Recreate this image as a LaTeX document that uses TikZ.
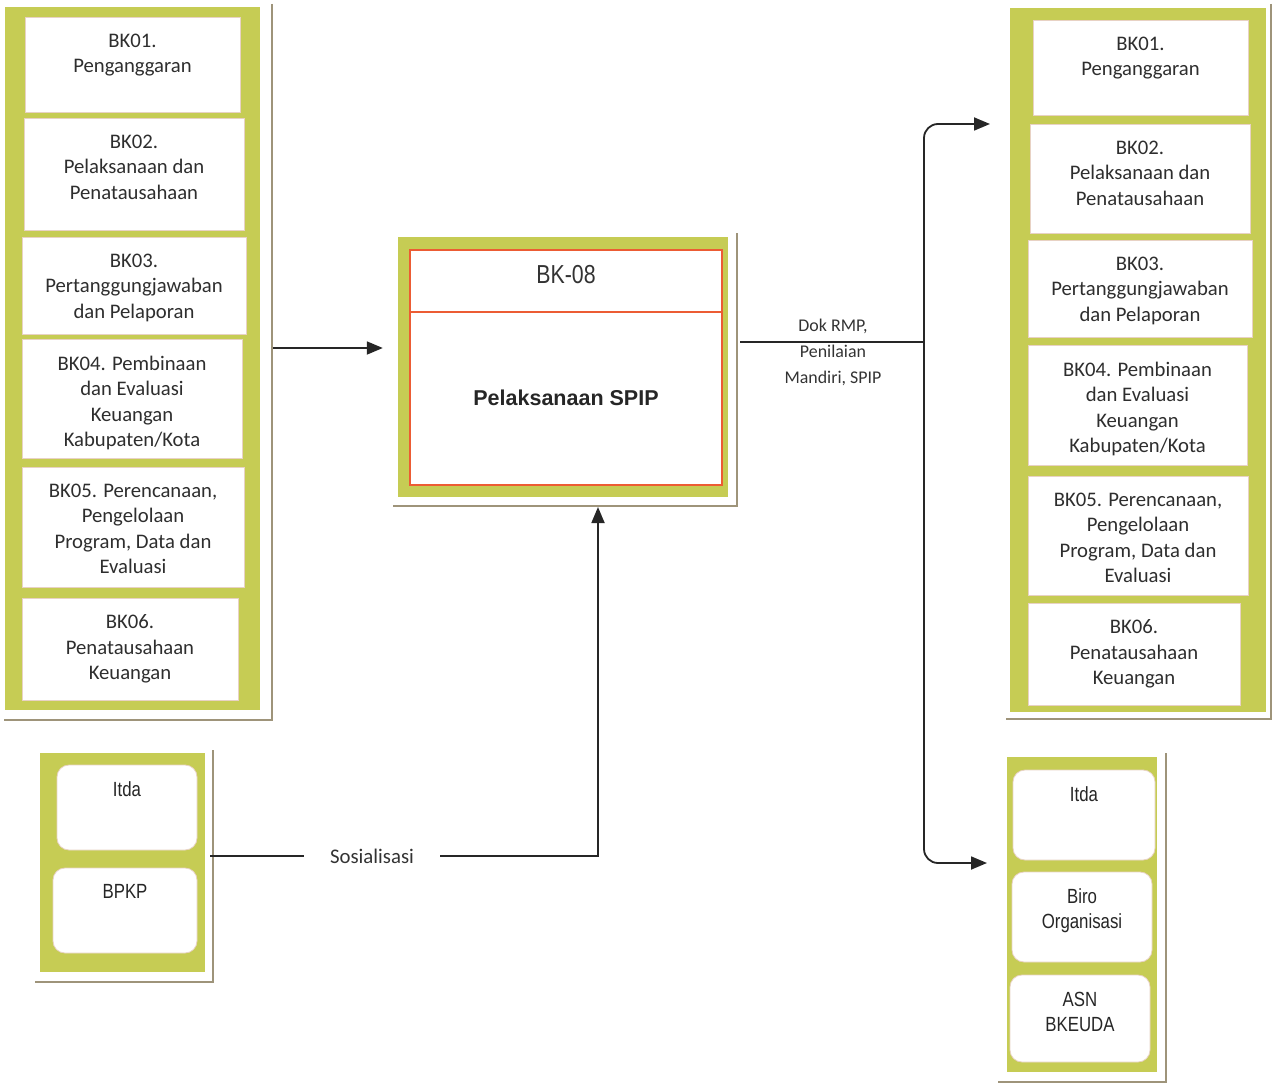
\documentclass[tikz,border=0pt]{standalone}
\usepackage{fontspec}
\setmainfont{Carlito}
\newfontfamily\narrowfont[FakeStretch=0.82]{Liberation Sans}
\newfontfamily\arialfont{Liberation Sans}
\usetikzlibrary{arrows.meta,fit,calc}
\definecolor{panelgreen}{RGB}{198,204,84}
\definecolor{shadowgray}{RGB}{158,148,122}
\definecolor{spiporange}{RGB}{236,92,52}
\definecolor{boxedge}{RGB}{232,210,196}
\tikzset{
  panel/.style={fill=panelgreen, draw=none, inner sep=0pt},
  wbox/.style={fill=white, draw=boxedge, line width=0.8pt, inner sep=0pt},
  rbox/.style={wbox, rounded corners=12pt},
  obox/.style={fill=white, draw=spiporange, line width=1.6pt, inner sep=0pt},
  shadowline/.style={draw=shadowgray, line width=2pt},
  bktext/.style={font=\fontsize{20.7}{25.5}\selectfont, align=center, inner sep=0pt, anchor=north, text=black!82},
  nartext/.style={font=\narrowfont\fontsize{20.5}{25}\selectfont, align=center, inner sep=0pt, anchor=north, text=black!85},
  conn/.style={draw=black!85, line width=1.8pt},
  arr/.style={conn, -{Triangle[length=16pt,width=13pt]}},
}
\begin{document}
\begin{tikzpicture}[x=1pt,y=-1pt]
\useasboundingbox (0,0) rectangle (1274,1086);

% ---------- left column ----------
\draw[shadowline] (272,4) -- (272,720) -- (4,720);
\node[panel, fit={(5,7)(260,710)}] (lp) {};
\node[wbox, fit={(25,17)(240,112)}] (l1) {};
\node[wbox, fit={(24,118)(244,230)}] (l2) {};
\node[wbox, fit={(22,237)(246,334)}] (l3) {};
\node[wbox, fit={(22,339)(242,458)}] (l4) {};
\node[wbox, fit={(22,467)(244,587)}] (l5) {};
\node[wbox, fit={(22,598)(238,700)}] (l6) {};
\node[bktext] (l1t) at ([yshift=-17pt]l1.north) {BK01.\\Penganggaran};
\node[bktext] (l2t) at ([yshift=-17pt]l2.north) {BK02.\\Pelaksanaan dan\\Penatausahaan};
\node[bktext] (l3t) at ([yshift=-17pt]l3.north) {BK03.\\Pertanggungjawaban\\dan Pelaporan};
\node[bktext] (l4t) at ([yshift=-17pt]l4.north) {BK04. Pembinaan\\dan Evaluasi\\Keuangan\\Kabupaten/Kota};
\node[bktext] (l5t) at ([yshift=-17pt]l5.north) {BK05. Perencanaan,\\Pengelolaan\\Program, Data dan\\Evaluasi};
\node[bktext] (l6t) at ([yshift=-17pt]l6.north) {BK06.\\Penatausahaan\\Keuangan};

% ---------- right column ----------
\draw[shadowline] (1271,4) -- (1271,719) -- (1006,719);
\node[panel, fit={(1010,8)(1266,712)}] (rp) {};
\node[wbox, fit={(1033,20)(1248,115)}] (r1) {};
\node[wbox, fit={(1030,124)(1250,233)}] (r2) {};
\node[wbox, fit={(1028,240)(1252,337)}] (r3) {};
\node[wbox, fit={(1028,345)(1247,465)}] (r4) {};
\node[wbox, fit={(1028,476)(1248,595)}] (r5) {};
\node[wbox, fit={(1028,603)(1240,705)}] (r6) {};
\node[bktext] (r1t) at ([yshift=-17pt]r1.north) {BK01.\\Penganggaran};
\node[bktext] (r2t) at ([yshift=-17pt]r2.north) {BK02.\\Pelaksanaan dan\\Penatausahaan};
\node[bktext] (r3t) at ([yshift=-17pt]r3.north) {BK03.\\Pertanggungjawaban\\dan Pelaporan};
\node[bktext] (r4t) at ([yshift=-17pt]r4.north) {BK04. Pembinaan\\dan Evaluasi\\Keuangan\\Kabupaten/Kota};
\node[bktext] (r5t) at ([yshift=-17pt]r5.north) {BK05. Perencanaan,\\Pengelolaan\\Program, Data dan\\Evaluasi};
\node[bktext] (r6t) at ([yshift=-17pt]r6.north) {BK06.\\Penatausahaan\\Keuangan};

% ---------- middle box ----------
\draw[shadowline] (737,233) -- (737,506) -- (393,506);
\node[panel, fit={(398,237)(728,497)}] (mid) {};
\node[obox, fit={(410,250)(722,312)}] (midtop) {};
\node[obox, fit={(410,312)(722,485)}] (midbot) {};
\node[font=\narrowfont\fontsize{26}{30}\selectfont, text=black!80, inner sep=0pt] (bk08) at (566,275) {BK-08};
\node[font=\arialfont\bfseries\fontsize{21.5}{26}\selectfont, text=black!85, inner sep=0pt] (spip) at (566,398) {Pelaksanaan SPIP};

% ---------- bottom left box ----------
\draw[shadowline] (213,750) -- (213,982) -- (35,982);
\node[panel, fit={(40,753)(205,972)}] (blp) {};
\node[rbox, fit={(57,765)(197,850)}] (bl1) {};
\node[rbox, fit={(53,868)(197,953)}] (bl2) {};
\node[nartext] (bl1t) at ([yshift=-17pt]bl1.north) {Itda};
\node[nartext] (bl2t) at ([yshift=-17pt]bl2.north) {BPKP};

% ---------- bottom right box ----------
\draw[shadowline] (1166,753) -- (1166,1082) -- (998,1082);
\node[panel, fit={(1007,757)(1157,1072)}] (brp) {};
\node[rbox, fit={(1013,770)(1155,860)}] (br1) {};
\node[rbox, fit={(1012,872)(1152,962)}] (br2) {};
\node[rbox, fit={(1010,975)(1150,1062)}] (br3) {};
\node[nartext] (br1t) at ([yshift=-17pt]br1.north) {Itda};
\node[nartext] (br2t) at ([yshift=-17pt]br2.north) {Biro\\Organisasi};
\node[nartext] (br3t) at ([yshift=-17pt]br3.north) {ASN\\BKEUDA};

% ---------- connectors ----------
\coordinate (row1) at (330,348);
\draw[arr] ([xshift=13pt]lp.east |- row1) -- ([xshift=-15pt]mid.west |- row1);

\coordinate (j) at (924,342);
\coordinate (t1) at (990,124);
\coordinate (t2) at (987,863);
\draw[conn] ([xshift=12pt]mid.east |- j) -- (j);
\draw[arr, rounded corners=14pt] (j) |- (t1);
\draw[arr, rounded corners=14pt] (j) |- (t2);
\node[font=\fontsize{17.9}{26}\selectfont, align=center, inner sep=0pt, text=black!80] (dok) at (833,352) {Dok RMP,\\Penilaian\\Mandiri, SPIP};

\node[font=\fontsize{20.8}{25}\selectfont, inner xsep=26pt, inner ysep=0pt, text=black!80] (sos) at (372,856) {Sosialisasi};
\coordinate (up) at (598,507);
\draw[conn] ([xshift=5pt]blp.east |- sos) -- (sos.west);
\draw[arr] (sos.east) -| (up);
\end{tikzpicture}
\end{document}
